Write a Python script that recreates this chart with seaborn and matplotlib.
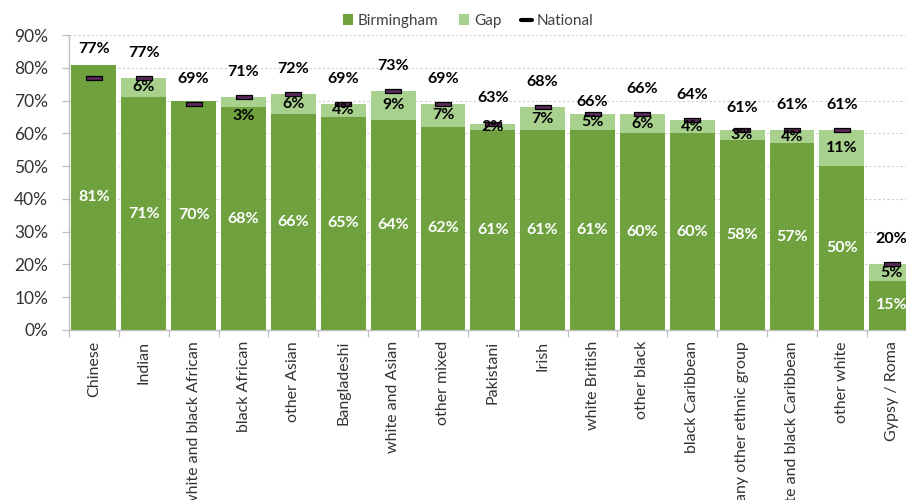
import matplotlib
matplotlib.use("Agg")
import matplotlib.pyplot as plt
from matplotlib.patches import Patch
from matplotlib.lines import Line2D
import pandas as pd
import seaborn as sns

# Attainment by ethnic group: Birmingham vs national average
groups = [
    "Chinese", "Indian", "white and black African", "black African", "other Asian",
    "Bangladeshi", "white and Asian", "other mixed", "Pakistani", "Irish",
    "white British", "other black", "black Caribbean", "any other ethnic group",
    "white and black Caribbean", "other white", "Gypsy / Roma",
]
birmingham = [81, 71, 70, 68, 66, 65, 64, 62, 61, 61, 61, 60, 60, 58, 57, 50, 15]
gap = [0, 6, 0, 3, 6, 4, 9, 7, 2, 7, 5, 6, 4, 3, 4, 11, 5]
national = [77, 77, 69, 71, 72, 69, 73, 69, 63, 68, 66, 66, 64, 61, 61, 61, 20]

DARK = "#6FA13F"
LIGHT = "#A9D18E"
MARKER_FILL = "#5A2A5A"
TEXT = "#333333"

df = pd.DataFrame({
    "group": groups,
    "Birmingham": birmingham,
    "Gap": gap,
    "National": national,
})
df["Total"] = df["Birmingham"] + df["Gap"]

sns.set_theme(style="white")
plt.rcParams["font.family"] = ["Lato", "DejaVu Sans"]

fig = plt.figure(figsize=(9.06, 5.0), dpi=100)
ax = fig.add_axes([69 / 906, 170 / 500, 847.6 / 906, 295 / 500])

# stacked bars: full height (Birmingham + gap) underneath, Birmingham on top
sns.barplot(data=df, x="group", y="Total", color=LIGHT, saturation=1,
            width=0.9, linewidth=0, ax=ax, zorder=2)
sns.barplot(data=df, x="group", y="Birmingham", color=DARK, saturation=1,
            width=0.9, linewidth=0, ax=ax, zorder=3)

# national average markers: short flat bar
dash = [(-1, -0.27), (1, -0.27), (1, 0.27), (-1, 0.27), (-1, -0.27)]
ax.scatter(range(len(groups)), df["National"], marker=dash, s=135,
           facecolor=MARKER_FILL, edgecolor="black", linewidth=0.9, zorder=5)

px = 72 / 100  # pixels -> points

# Birmingham values inside the dark bars
for i, v in enumerate(birmingham):
    ax.text(i, v / 2, f"{v}%", ha="center", va="center", color="white",
            fontsize=11.5, fontweight="bold", zorder=6)

# gap values in the light segment
gap_nudge = {3: -14}
for i, (b, g) in enumerate(zip(birmingham, gap)):
    if g > 0:
        ax.annotate(f"{g}%", (i, b + g / 2), xytext=(0, gap_nudge.get(i, 0) * px),
                    textcoords="offset points", ha="center", va="center",
                    color="black", fontsize=11.5, fontweight="bold", zorder=6)

# national values above the markers
nat_offset = {0: 29, 10: 11.5, 13: 22}
for i, n in enumerate(national):
    ax.annotate(f"{n}%", (i, n), xytext=(0, nat_offset.get(i, 25) * px),
                textcoords="offset points", ha="center", va="center",
                color="black", fontsize=11.5, fontweight="bold", zorder=6)

ax.set_xlim(-0.5, len(groups) - 0.5)
ax.set_ylim(0, 90)
ax.set_yticks(range(0, 91, 10))
ax.set_yticklabels([f"{t}%" for t in range(0, 91, 10)], fontsize=12.5, color=TEXT)
ax.set_xlabel("")
ax.set_ylabel("")

ax.set_xticks(range(len(groups)))
ax.set_xticklabels(groups, rotation=90, fontsize=11.5, color=TEXT)
ax.set_xticks([i - 0.5 for i in range(len(groups) + 1)], minor=True)
ax.tick_params(axis="x", which="major", length=0, pad=8)
ax.tick_params(axis="x", which="minor", length=5, color="#BFBFBF", width=0.9,
               direction="out", bottom=True)
ax.tick_params(axis="y", length=5, color="#BFBFBF", width=0.9, direction="out",
               left=True, pad=10)

for t in range(10, 91, 10):
    ax.axhline(t, color="#D0D0D0", linestyle=(0, (2, 2)), linewidth=0.8, zorder=1)

for side in ("top", "right"):
    ax.spines[side].set_visible(False)
for side in ("left", "bottom"):
    ax.spines[side].set_color("#BFBFBF")
    ax.spines[side].set_linewidth(1.0)

handles = [
    Patch(facecolor=DARK, edgecolor="none", label="Birmingham"),
    Patch(facecolor=LIGHT, edgecolor="none", label="Gap"),
    Line2D([0], [0], color="black", linewidth=3, label="National"),
]
fig.legend(handles=handles, loc="center", bbox_to_anchor=(468 / 906, 1 - 21 / 500),
           ncol=3, frameon=False, fontsize=11, handlelength=0.7, handleheight=0.7,
           handletextpad=0.3, columnspacing=1.3, labelcolor="#404040")

fig.savefig("out.png", dpi=100)
